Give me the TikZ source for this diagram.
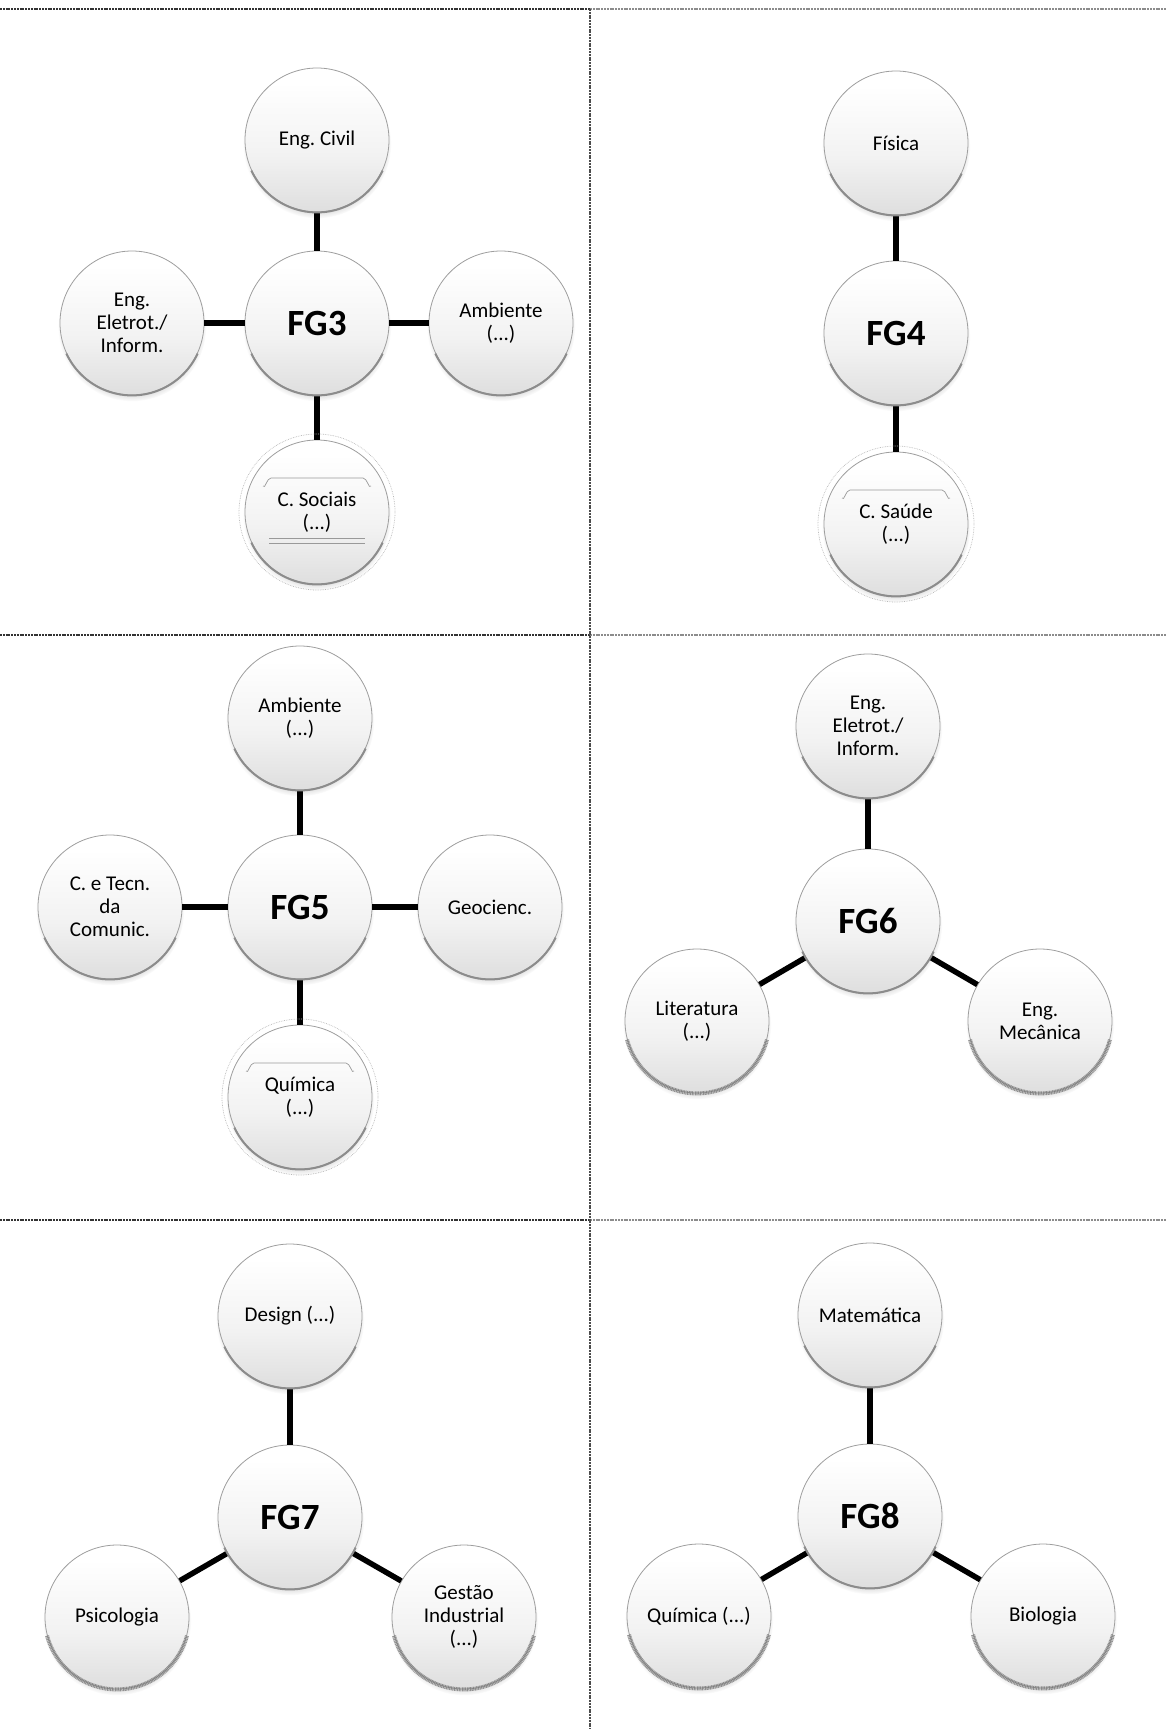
\documentclass[tikz,border=0pt]{standalone}
\usepackage{fontspec}
\setmainfont{Carlito}
\usetikzlibrary{shadows}
\frenchspacing
\pgfdeclareverticalshading{ballshade}{100bp}{color(0bp)=(black!30); color(22bp)=(black!14); color(45bp)=(black!5); color(70bp)=(white); color(100bp)=(white)}
\begin{document}
\begin{tikzpicture}[x=1pt,y=1pt,
  ball/.style={circle, minimum size=144pt, inner sep=0pt, align=center,
    font=\fontsize{21}{23}\selectfont, shading=ballshade,
    draw=black!38, line width=0.8pt,
    circular drop shadow={shadow xshift=0pt, shadow yshift=-4pt, shadow scale=1.03, opacity=0.4}},
  hub/.style={ball, font=\fontsize{37}{40}\selectfont\bfseries},
  link/.style={line width=5.5pt, black},
  rim/.style={black!45, line width=2pt},
  noisyrim/.style={black!55, line width=4pt, opacity=0.75, dash pattern=on 1pt off 0.6pt},
  ring/.style={black!28, line width=0.7pt, densely dotted},
  tab/.style={black!40, line width=0.7pt},
  sepdark/.style={black!80, line width=1.3pt, dash pattern=on 2pt off 0.8pt},
  seplight/.style={black!45, line width=1.3pt, dash pattern=on 2pt off 0.8pt}
]
\useasboundingbox (0,0) rectangle (1166,-1729);
% separators
\coordinate (t0) at (0,-9); \coordinate (tm) at (590,-9); \coordinate (t1) at (1166,-9);
\coordinate (m0) at (0,-635); \coordinate (mm) at (590,-635); \coordinate (m1) at (1166,-635);
\coordinate (b0) at (0,-1220); \coordinate (bm) at (590,-1220); \coordinate (b1) at (1166,-1220);
\coordinate (vb) at (590,-1729);
\draw[sepdark] (t0) -- (tm);
\draw[seplight] (tm) -- (t1);
\draw[sepdark] (m0) -- (mm);
\draw[seplight] (mm) -- (m1);
\draw[sepdark] (b0) -- (bm);
\draw[seplight] (bm) -- (b1);
\draw[sepdark, black!70] (tm) -- (vb);

% ---------- FG3 ----------
\node[ball] (civ) at (317,-140) {Eng. Civil};
\node[hub] (fg3) at (317,-323) {FG3};
\node[ball] (ele3) at (132,-323) {Eng.\\Eletrot./\\Inform.};
\node[ball] (amb3) at (501,-323) {Ambiente\\(...)};
\node[ball] (soc) at (317,-512) {C. Sociais\\(...)};
\draw[link] (civ) -- (fg3);
\draw[link] (ele3) -- (fg3);
\draw[link] (fg3) -- (amb3);
\draw[link] (fg3) -- (soc);

% ---------- FG4 ----------
\node[ball] (fis) at (896,-143) {Física};
\node[hub] (fg4) at (896,-333) {FG4};
\node[ball] (sau) at (896,-524) {C. Saúde\\(...)};
\draw[link] (fis) -- (fg4);
\draw[link] (fg4) -- (sau);

% ---------- FG5 ----------
\node[ball] (amb5) at (300,-718) {Ambiente\\(...)};
\node[hub] (fg5) at (300,-907) {FG5};
\node[ball] (cet) at (110,-907) {C. e Tecn.\\da\\Comunic.};
\node[ball] (geo) at (490,-907) {Geocienc.};
\node[ball] (qui5) at (300,-1097) {Química\\(...)};
\draw[link] (amb5) -- (fg5);
\draw[link] (cet) -- (fg5);
\draw[link] (fg5) -- (geo);
\draw[link] (fg5) -- (qui5);

% ---------- FG6 ----------
\node[ball] (ele6) at (868,-726) {Eng.\\Eletrot./\\Inform.};
\node[hub] (fg6) at (868,-921) {FG6};
\node[ball] (lit) at (697,-1021) {Literatura\\(...)};
\node[ball] (mec) at (1040,-1021) {Eng.\\Mecânica};
\draw[link] (ele6) -- (fg6);
\draw[link] (fg6) -- (lit);
\draw[link] (fg6) -- (mec);

% ---------- FG7 ----------
\node[ball] (des) at (290,-1316) {Design (...)};
\node[hub] (fg7) at (290,-1517) {FG7};
\node[ball] (psi) at (117,-1617) {Psicologia};
\node[ball] (ges) at (464,-1617) {Gestão\\Industrial\\(...)};
\draw[link] (des) -- (fg7);
\draw[link] (fg7) -- (psi);
\draw[link] (fg7) -- (ges);

% ---------- FG8 ----------
\node[ball] (mat) at (870,-1315) {Matemática};
\node[hub] (fg8) at (870,-1516) {FG8};
\node[ball] (qui8) at (699,-1616) {Química (...)};
\node[ball] (bio) at (1043,-1616) {Biologia};
\draw[link] (mat) -- (fg8);
\draw[link] (fg8) -- (qui8);
\draw[link] (fg8) -- (bio);

% rims
\foreach \n in {civ,fg3,ele3,amb3,soc,fis,fg4,sau,amb5,fg5,cet,geo,qui5,ele6,fg6,des,fg7,mat,fg8}{
  \draw[rim] (\n.205) arc[start angle=205, end angle=335, radius=72.4pt];
}
\foreach \n in {lit,mec,psi,ges,qui8,bio}{
  \draw[noisyrim] (\n.195) arc[start angle=195, end angle=345, radius=72.4pt];
}
% artefacts on three circles
\foreach \n in {soc,sau,qui5}{
  \draw[ring] (\n.center) circle[radius=78pt];
  \draw[tab] ([shift={(-54,26)}]\n.center) to[out=-60,in=180] ([shift={(-46,34)}]\n.center)
     -- ([shift={(46,34)}]\n.center) to[out=0,in=240] ([shift={(54,26)}]\n.center);
}
\draw[tab] ([shift={(-48,-26)}]soc.center) -- ([shift={(48,-26)}]soc.center);
\draw[tab] ([shift={(-48,-31)}]soc.center) -- ([shift={(48,-31)}]soc.center);
\end{tikzpicture}
\end{document}
